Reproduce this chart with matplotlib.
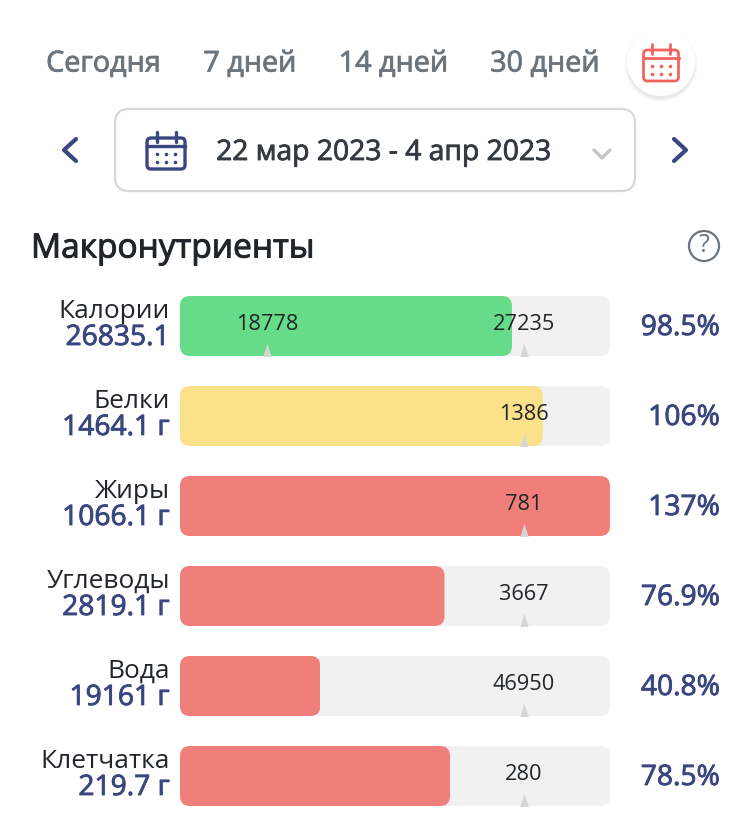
import matplotlib.pyplot as plt
import matplotlib.patheffects as pe
from matplotlib.patches import FancyBboxPatch, Circle
from matplotlib.transforms import IdentityTransform

plt.rcParams['font.family'] = ['Open Sans', 'DejaVu Sans']

# Данные с картинки
nutrients = ['Калории', 'Белки', 'Жиры', 'Углеводы', 'Вода', 'Клетчатка']
consumed = ['26835.1', '1464.1 г', '1066.1 г', '2819.1 г', '19161 г', '219.7 г']
percent_labels = ['98.5%', '106%', '137%', '76.9%', '40.8%', '78.5%']
fill_percent = [96.5, 105.5, 137, 76.9, 40.8, 78.5]
target_labels = ['27235', '1386', '781', '3667', '46950', '280']
target_percent = [100, 100, 100, 100, 100, 100]
low_label = '18778'
low_percent = 25.3
bar_colors = ['#66dc88', '#fbe28a', '#f07f7a', '#f07f7a', '#f07f7a', '#f07f7a']
period_labels = ['Сегодня', '7 дней', '14 дней', '30 дней']
date_range = '22 мар 2023 - 4 апр 2023'
title = 'Макронутриенты'

NAVY = '#394680'
RED = '#f2635b'
W, H = 750, 839

fig = plt.figure(figsize=(W / 100, H / 100), dpi=100, facecolor='white')

# Слой в пикселях для интерфейса
ui = fig.add_axes([0, 0, 1, 1], zorder=1)
ui.set_xlim(0, W)
ui.set_ylim(H, 0)
ui.axis('off')


def bold(color, width=0.6):
    # Open Sans тут только обычный, жирность добавляем обводкой
    return [pe.withStroke(linewidth=width, foreground=color)]


def calendar(cx, cy, color, lw, half):
    ui.add_patch(FancyBboxPatch((cx - half, cy - 13), 2 * half, 31, boxstyle='round,pad=0,rounding_size=4',
                                fc='none', ec=color, lw=lw))
    ui.plot([cx - half, cx + half], [cy - 5, cy - 5], color=color, lw=lw)
    for dx in (-half / 2, half / 2):
        ui.plot([cx + dx, cx + dx], [cy - 19, cy - 9], color=color, lw=lw, solid_capstyle='round')
    for dy in (3, 11):
        ui.plot([cx - 9, cx, cx + 9], [cy + dy] * 3, ls='none', marker='o', ms=2.6, color=color, mew=0)


def chevron(cx, cy, dx, dy, color, lw):
    ui.plot([cx + dx, cx - dx, cx + dx], [cy - dy, cy, cy + dy], color=color,
            lw=lw, solid_capstyle='round', solid_joinstyle='round')


# Верхняя строка
for label, x in zip(period_labels, [103.5, 250, 393.5, 545]):
    ui.text(x, 64, label, ha='center', va='center', fontsize=20.7, color='#6c757d', path_effects=bold('#6c757d'))
for r, a in zip([37, 36, 35, 34], [0.012, 0.018, 0.025, 0.03]):
    ui.add_patch(Circle((661, 65), r, fc='black', ec='none', alpha=a))
ui.add_patch(Circle((661, 62), 34, fc='white', ec='none'))
calendar(661, 63, RED, 2.0, 17.5)

# Выбор дат
ui.add_patch(FancyBboxPatch((115, 109), 520, 82, boxstyle='round,pad=0,rounding_size=14',
                            fc='white', ec='#d6d8db', lw=1.6))
calendar(166, 151, NAVY, 2.4, 19)
ui.text(383.5, 153, date_range, ha='center', va='center', fontsize=20.35, color='#343a40',
        path_effects=bold('#343a40'))
chevron(70, 150, 6, 11, NAVY, 3)
chevron(680, 150, -6, 11, NAVY, 3)
ui.plot([594, 602, 610], [150, 158, 150], color='#c4c6c8', lw=2.4, solid_capstyle='round')

ui.text(31, 249, title, ha='left', va='center', fontsize=24.1, color='#212529', path_effects=bold('#212529', 0.7))
ui.add_patch(Circle((704, 246), 15, fc='none', ec='#6c757d', lw=1.6))
ui.text(704, 246, '?', ha='center', va='center', fontsize=18, color='#6c757d')

# Полосы
row_h = 90
top = 281
ax = fig.add_axes([180 / W, 1 - (top + 6 * row_h) / H, 430 / W, 6 * row_h / H], zorder=2)
ax.set_xlim(0, 125)
ax.set_ylim(5.5, -0.5)
ax.axis('off')
ax.patch.set_alpha(0)

rows = list(range(len(nutrients)))
bar_h = 60 / row_h
tracks = ax.barh(rows, [125] * 6, height=bar_h, color='#f1f1f1', zorder=1)
fills = ax.barh(rows, [min(v, 125) for v in fill_percent], height=bar_h, color=bar_colors, zorder=2)

# Скругление через обрезку по рамке
fig.canvas.draw()
renderer = fig.canvas.get_renderer()
for bar in list(tracks) + list(fills):
    box = bar.get_window_extent(renderer)
    clip = FancyBboxPatch((box.x0, box.y0), box.width, box.height, boxstyle='round,pad=0,rounding_size=10',
                          transform=IdentityTransform())
    bar.set_clip_path(clip)

tri = [(-0.32, -0.5), (0.32, -0.5), (0, 0.5)]
for i in rows:
    y_tip = i + bar_h / 2 - 5.5 / row_h
    mark, = ax.plot(target_percent[i], y_tip, marker=tri, ms=11, color='#d4d5d7', mew=0, zorder=3)
    mark.set_clip_path(tracks[i])
    ax.text(target_percent[i], i - 1 / row_h, target_labels[i], ha='center', va='center', fontsize=15.7,
            color='#212529', zorder=4)
mark, = ax.plot(low_percent, bar_h / 2 - 5.5 / row_h, marker=tri, ms=11, color='#d4d5d7', mew=0, zorder=3)
mark.set_clip_path(tracks[0])
ax.text(low_percent, -1 / row_h, low_label, ha='center', va='center', fontsize=15.7, color='#212529', zorder=4)

# Подписи слева и проценты
for i in rows:
    y = top + row_h * (i + 0.5)
    ui.text(170, y - 15, nutrients[i], ha='right', va='center', fontsize=18.9, color='#212529')
    ui.text(170, y + 12, consumed[i], ha='right', va='center', fontsize=20.3, color=NAVY, path_effects=bold(NAVY))
    ui.text(720, y + 2, percent_labels[i], ha='right', va='center', fontsize=20.3, color=NAVY, path_effects=bold(NAVY))

fig.savefig('out.png', dpi=100)
